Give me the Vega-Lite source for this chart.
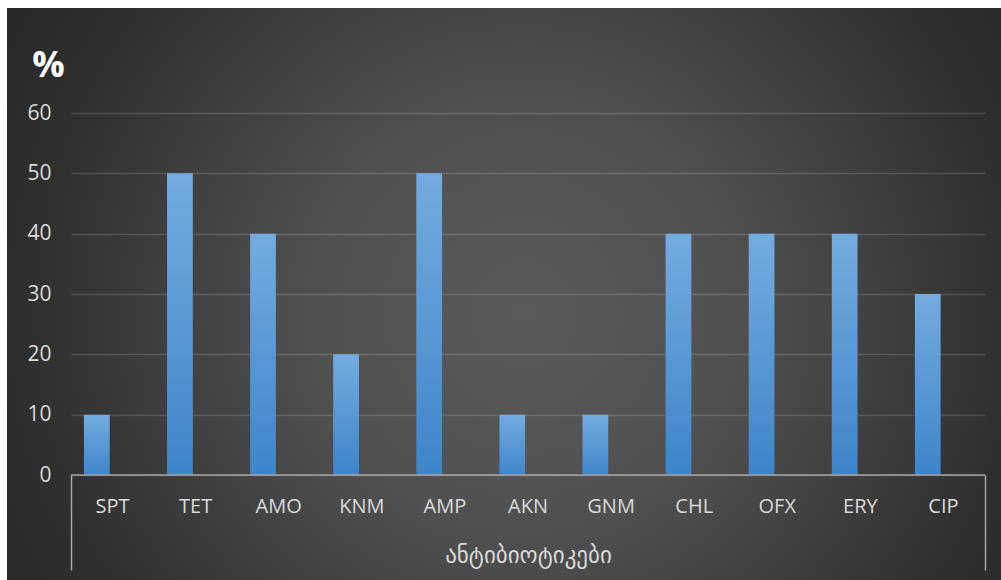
{
  "$schema": "https://vega.github.io/schema/vega-lite/v6.json",
  "width": 994,
  "height": 572,
  "autosize": {"type": "none"},
  "padding": {"left": 7, "top": 8, "right": 0, "bottom": 0},
  "background": "#ffffff",
  "config": {
    "view": {
      "stroke": null,
      "fill": {
        "gradient": "radial",
        "x1": 0.52, "y1": 0.52, "r1": 0,
        "x2": 0.52, "y2": 0.52, "r2": 0.62,
        "stops": [
          {"offset": 0, "color": "#5a5a5a"},
          {"offset": 0.35, "color": "#505050"},
          {"offset": 0.8, "color": "#2f2f2f"},
          {"offset": 1, "color": "#272727"}
        ]
      }
    }
  },
  "datasets": {
    "antibiotics": [
      {"drug": "SPT", "pct": 10},
      {"drug": "TET", "pct": 50},
      {"drug": "AMO", "pct": 40},
      {"drug": "KNM", "pct": 20},
      {"drug": "AMP", "pct": 50},
      {"drug": "AKN", "pct": 10},
      {"drug": "GNM", "pct": 10},
      {"drug": "CHL", "pct": 40},
      {"drug": "OFX", "pct": 40},
      {"drug": "ERY", "pct": 40},
      {"drug": "CIP", "pct": 30}
    ],
    "bracket": [{"from": 0, "to": 11}]
  },
  "layer": [
    {
      "data": {"name": "antibiotics"},
      "mark": {
        "type": "bar",
        "color": {
          "gradient": "linear",
          "x1": 0, "y1": 0, "x2": 0, "y2": 1,
          "stops": [
            {"offset": 0, "color": "#74abe0"},
            {"offset": 1, "color": "#3d85ca"}
          ]
        }
      },
      "encoding": {
        "x": {
          "field": "drug",
          "type": "nominal",
          "sort": null,
          "scale": {"range": [64, 978], "paddingInner": 0.69, "paddingOuter": 0.345, "align": 0.226},
          "axis": {
            "orient": "bottom",
            "offset": -105,
            "domain": false,
            "ticks": false,
            "labelPadding": 21,
            "labelOffset": 15.7,
            "labelAngle": 0,
            "labelFont": "Open Sans",
            "labelFontSize": 20,
            "labelColor": "#d9d9d9",
            "title": "ანტიბიოტიკები",
            "titleFont": "DejaVu Sans",
            "titleFontSize": 23,
            "titleFontWeight": "normal",
            "titleColor": "#d9d9d9",
            "titleX": 521,
            "titleY": 80,
            "titleBaseline": "middle"
          }
        },
        "y": {
          "field": "pct",
          "type": "quantitative",
          "scale": {"domain": [0, 60], "range": [467, 105], "nice": false},
          "axis": {
            "values": [0, 10, 20, 30, 40, 50, 60],
            "offset": -64,
            "domain": false,
            "ticks": false,
            "tickSize": 0,
            "labelPadding": 20,
            "labelFont": "Open Sans",
            "labelFontSize": 21,
            "labelColor": "#d9d9d9",
            "gridColor": "#ffffff",
            "gridOpacity": 0.14,
            "gridWidth": 1.5,
            "title": "%",
            "titleAngle": 0,
            "titleX": -23,
            "titleY": 57,
            "titleAlign": "center",
            "titleBaseline": "middle",
            "titleFont": "Open Sans",
            "titleFontSize": 36,
            "titleFontWeight": "bold",
            "titleColor": "#ffffff"
          }
        }
      }
    },
    {
      "data": {"name": "bracket"},
      "mark": {"type": "rule", "color": "#a6a6a6", "strokeWidth": 1.5},
      "encoding": {
        "x": {
          "field": "from",
          "type": "quantitative",
          "scale": {"domain": [0, 11], "range": [64, 978], "nice": false, "zero": false},
          "axis": {
            "orient": "bottom",
            "offset": -105,
            "values": [0, 11],
            "domain": false,
            "labels": false,
            "grid": false,
            "ticks": true,
            "tickSize": 95,
            "tickColor": "#a6a6a6",
            "tickWidth": 1.5,
            "title": null
          }
        },
        "x2": {"field": "to"},
        "y": {"datum": 0}
      }
    }
  ],
  "resolve": {"scale": {"x": "independent"}, "axis": {"x": "independent"}}
}
